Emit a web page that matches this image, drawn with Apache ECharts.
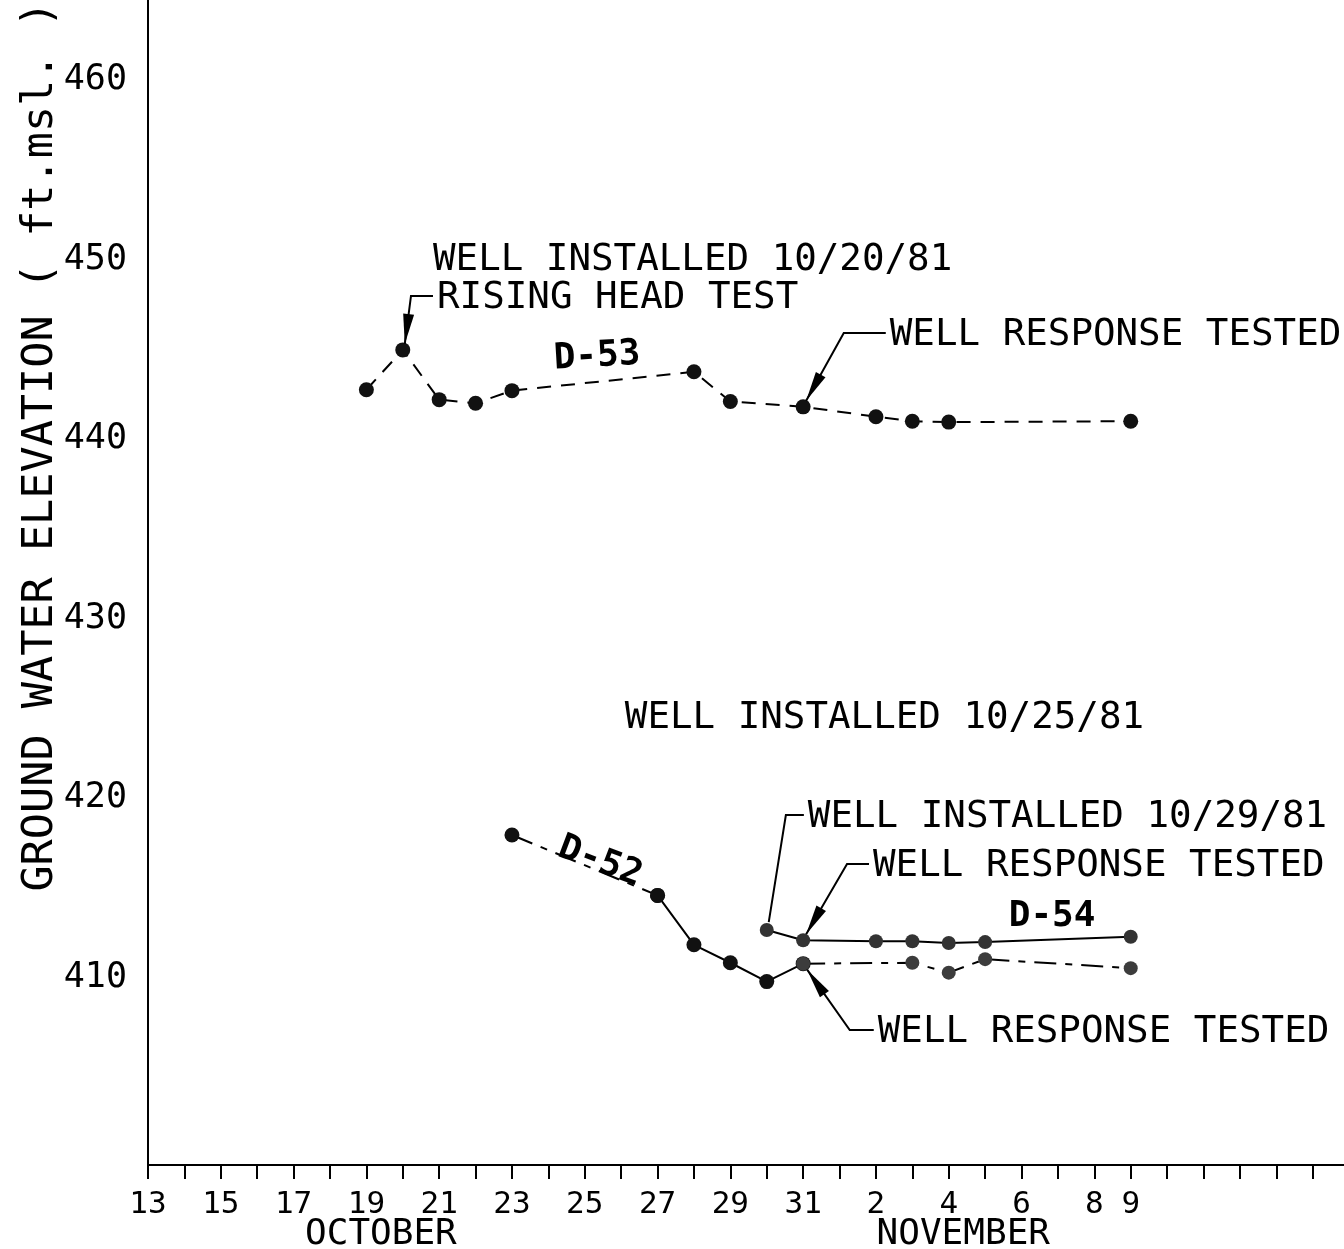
<!DOCTYPE html>
<html><head><meta charset="utf-8">
<script src="https://cdn.jsdelivr.net/npm/echarts@6/dist/echarts.min.js"></script>
<style>html,body{margin:0;padding:0;background:#fff}#c{width:1344px;height:1249px}</style>
</head><body><div id="c"></div>
<script>
const FONT = "'DejaVu Sans Mono', monospace";
// x value = day counted from Oct 1 (November day d => 31 + d)
const d53Days = [19, 20, 21, 22, 23, 28, 29, 31, 33, 34, 35, 40];
const d53Elev = [442.75, 444.97, 442.2, 442.0, 442.7, 443.75, 442.1, 441.8, 441.25, 441.0, 440.95, 441.0];
const d52Days = [23, 27, 28, 29, 30, 31, 34, 35, 36, 40];
const d52Elev = [417.96, 414.6, 411.85, 410.85, 409.8, 410.8, 410.85, 410.3, 411.05, 410.55];
const d54Days = [30, 31, 33, 34, 35, 36, 40];
const d54Elev = [412.67, 412.1, 412.05, 412.05, 411.95, 412.0, 412.3];

const tickDays = [13,14,15,16,17,18,19,20,21,22,23,24,25,26,27,28,29,30,31,32,33,34,35,36,37,38,39,40,41,42,43,44,45];
const labelDays = [13, 15, 17, 19, 21, 23, 25, 27, 29, 31, 33, 35, 37, 39, 40];
const labelTexts = ['13','15','17','19','21','23','25','27','29','31','2','4','6','8','9'];
const yTicks = [410, 420, 430, 440, 450, 460];
const monthNames = ['OCTOBER', 'NOVEMBER'];
const monthCenters = [19.4, 35.4];
const yTitle = 'GROUND WATER ELEVATION ( ft.msl. )';

const X_MIN = 13, X_MAX = 45.86, Y_MIN = 399.59, Y_MAX = 464.45;

function pairs(xs, ys, a, b) {
  const out = [];
  for (let i = a; i <= b; i++) out.push([xs[i], ys[i]]);
  return out;
}

const chart = echarts.init(document.getElementById('c'), null, {renderer: 'canvas'});
const dashDot = [22, 9, 7, 9];
chart.setOption({
  animation: false,
  backgroundColor: '#fff',
  grid: {left: 148, right: 0, top: 0, bottom: 84, containLabel: false},
  xAxis: {
    type: 'value', min: X_MIN, max: X_MAX,
    axisLine: {show: true, lineStyle: {color: '#000', width: 2}},
    axisTick: {show: true, length: 14, inside: false, lineStyle: {color: '#000', width: 2}, customValues: tickDays},
    axisLabel: {
      customValues: labelDays, margin: 24, color: '#000', fontFamily: FONT, fontSize: 31,
      formatter: v => { const i = labelDays.indexOf(Math.round(v)); return i >= 0 ? labelTexts[i] : ''; }
    },
    splitLine: {show: false}
  },
  yAxis: {
    type: 'value', min: Y_MIN, max: Y_MAX,
    axisLine: {show: true, lineStyle: {color: '#000', width: 2}},
    axisTick: {show: false},
    axisLabel: {customValues: yTicks, margin: 21, color: '#000', fontFamily: FONT, fontSize: 35,
      formatter: v => String(Math.round(v))},
    splitLine: {show: false}
  },
  series: [
    {name: 'D-53', type: 'line', data: pairs(d53Days, d53Elev, 0, d53Days.length - 1),
      symbol: 'circle', symbolSize: 15, itemStyle: {color: '#111'},
      lineStyle: {color: '#000', width: 2, type: [14, 10]}},
    {name: 'D-52', type: 'line', data: pairs(d52Days, d52Elev, 0, 1),
      symbol: 'circle', symbolSize: 15, itemStyle: {color: '#111'},
      lineStyle: {color: '#000', width: 2, type: dashDot}},
    {name: 'D-52', type: 'line', data: pairs(d52Days, d52Elev, 1, 5),
      symbol: 'circle', symbolSize: 15, itemStyle: {color: '#111'},
      lineStyle: {color: '#000', width: 2, type: 'solid'}},
    {name: 'D-52', type: 'line', data: pairs(d52Days, d52Elev, 5, d52Days.length - 1),
      symbol: 'circle', symbolSize: 14, itemStyle: {color: '#3c3c3c'},
      lineStyle: {color: '#000', width: 2, type: dashDot}},
    {name: 'D-54', type: 'line', data: pairs(d54Days, d54Elev, 0, d54Days.length - 1),
      symbol: 'circle', symbolSize: 14, itemStyle: {color: '#333'},
      lineStyle: {color: '#000', width: 2, type: 'solid'}}
  ]
});

function px(x, y) { return chart.convertToPixel({gridIndex: 0}, [x, y]); }
const ANN_FONT = '37.5px ' + FONT;
function txt(s, p) {
  return {type: 'text', x: p[0], y: p[1], z: 50,
    style: {text: s, fill: '#000', font: ANN_FONT, align: 'left', verticalAlign: 'middle'}};
}
function line(pts) {
  return {type: 'polyline', z: 60, shape: {points: pts}, style: {stroke: '#000', lineWidth: 2, fill: null}};
}
function arrow(p0, p1, len, hw) {
  const dx = p1[0] - p0[0], dy = p1[1] - p0[1], L = Math.hypot(dx, dy);
  const ux = dx / L, uy = dy / L, bx = p1[0] - ux * len, by = p1[1] - uy * len;
  return {type: 'polygon', z: 61, shape: {points: [p1, [bx - uy * hw, by + ux * hw], [bx + uy * hw, by - ux * hw]]},
    style: {fill: '#000'}};
}
function leader(textPos, pt, stub, endOff, withArrow) {
  const a = [textPos[0] - 4, textPos[1] - 2];
  const b = [textPos[0] - 4 - stub, textPos[1] - 2];
  const c = [pt[0] + endOff[0], pt[1] + endOff[1]];
  const els = [line([a, b, c])];
  if (withArrow) els.push(arrow(b, c, 30, 5.5));
  return els;
}

const g = [];
const ann = {
  inst20: px(20.83, 449.98), rising: px(20.94, 447.86), wrtTop: px(33.38, 445.8),
  inst25: px(26.10, 424.48), inst29: px(31.13, 418.96), wrtMid: px(32.92, 416.24),
  wrtBot: px(33.05, 406.99)
};
g.push(txt('WELL INSTALLED 10/20/81', ann.inst20));
g.push(txt('RISING HEAD TEST', ann.rising));
g.push(txt('WELL RESPONSE TESTED', ann.wrtTop));
g.push(txt('WELL INSTALLED 10/25/81', ann.inst25));
g.push(txt('WELL INSTALLED 10/29/81', ann.inst29));
g.push(txt('WELL RESPONSE TESTED', ann.wrtMid));
g.push(txt('WELL RESPONSE TESTED', ann.wrtBot));

const p53a = px(d53Days[1], d53Elev[1]);
const p53b = px(d53Days[7], d53Elev[7]);
const p54a = px(d54Days[0], d54Elev[0]);
const p54b = px(d54Days[1], d54Elev[1]);
const p52 = px(d52Days[5], d52Elev[5]);
g.push(...leader(ann.rising, p53a, 22, [2, -6], true));
g.push(...leader(ann.wrtTop, p53b, 42, [3, -6], true));
g.push(...leader(ann.inst29, p54a, 18, [2, -8], false));
g.push(...leader(ann.wrtMid, p54b, 22, [3, -6], true));
g.push(...leader(ann.wrtBot, p52, 24, [4, 6], true));

// series labels
const l53 = px(25.34, 444.58), l52 = px(25.42, 416.46), l54 = px(37.84, 413.4);
const bold = 'bold 36px ' + FONT;
g.push({type: 'text', x: l53[0], y: l53[1], rotation: 0.06, z: 50,
  style: {text: 'D-53', font: bold, fill: '#000', align: 'center', verticalAlign: 'middle'}});
g.push({type: 'text', x: l52[0], y: l52[1], rotation: -0.36, z: 50,
  style: {text: 'D-52', font: bold, fill: '#000', align: 'center', verticalAlign: 'middle'}});
g.push({type: 'text', x: l54[0], y: l54[1], z: 50,
  style: {text: 'D-54', font: bold, fill: '#000', align: 'center', verticalAlign: 'middle'}});

// month labels
for (let i = 0; i < monthNames.length; i++) {
  const p = px(monthCenters[i], Y_MIN);
  g.push({type: 'text', x: p[0], y: p[1] + 70, z: 50,
    style: {text: monthNames[i], font: '36px ' + FONT, fill: '#000', align: 'center', verticalAlign: 'middle'}});
}
// y axis title (centre of the text at elevation ~439.6)
const pt = px(X_MIN, 439.6);
g.push({type: 'text', x: pt[0] - 107, y: pt[1], rotation: Math.PI / 2, z: 50,
  style: {text: yTitle, font: '43.5px ' + FONT, fill: '#000', align: 'center', verticalAlign: 'middle'}});

chart.setOption({graphic: g});
</script></body></html>
